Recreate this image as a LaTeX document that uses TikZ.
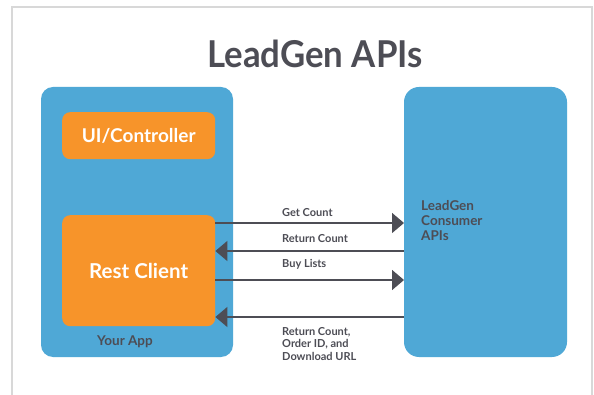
\documentclass[tikz,border=0pt]{standalone}
\usepackage{fontspec}
\usepackage{graphicx}
\setmainfont{Lato}
\usetikzlibrary{arrows.meta,calc}
\definecolor{appblue}{HTML}{4FA8D6}
\definecolor{apporange}{HTML}{F7942A}
\definecolor{darkgr}{HTML}{4D4D55}
\definecolor{framegr}{HTML}{D8D8D8}
\tikzset{
  bluebox/.style={fill=appblue, draw=none, rounded corners=12pt},
  orangebox/.style={fill=apporange, draw=none, rounded corners=8pt, text=white, font=\bfseries\fontsize{19}{21}\selectfont},
  msg/.style={draw=darkgr, line width=1.5pt, -{Triangle[length=12pt,width=20pt]}},
  lbl/.style={anchor=base west, inner sep=0pt, text=darkgr, font=\bfseries\fontsize{11}{12.5}\selectfont, align=left}
}
\begin{document}
\begin{tikzpicture}[x=1pt,y=-1pt]
\useasboundingbox (0,0) rectangle (594,395);
\fill[white] (0,0) rectangle (594,395);
\draw[framegr, line width=2pt] (12,400) -- (12,7) -- (592,7) -- (592,400);
\node[anchor=base, inner sep=0pt, text=darkgr, font=\bfseries\fontsize{37}{40}\selectfont] (title) at (315,68) {\scalebox{0.94}[1]{LeadGen APIs}};
\path[bluebox] (41,87) rectangle (233,357);
\node[inner sep=0pt, minimum width=192pt, minimum height=270pt, anchor=north west] (app) at (41,87) {};
\path[bluebox, rounded corners=15pt] (404,87) rectangle (567,357);
\node[inner sep=0pt, minimum width=163pt, minimum height=270pt, anchor=north west] (api) at (404,87) {};
\node[orangebox, anchor=north west, minimum width=153pt, minimum height=47pt, inner sep=0pt] (ui) at (62,112) {UI/Controller};
\node[orangebox, anchor=north west, minimum width=153pt, minimum height=111pt, inner sep=0pt, font=\bfseries\fontsize{20.5}{22}\selectfont] (rc) at (62,215) {Rest Client};
\node[lbl, font=\bfseries\fontsize{13.5}{14}\selectfont] (yourapp) at (97,345) {Your App};
\node[lbl, font=\bfseries\fontsize{13.5}{15}\selectfont] (consumer) at (421,241) {LeadGen\\Consumer\\APIs};
\coordinate (l1) at (rc.east |- 0,223);
\coordinate (r1) at (api.west |- 0,223);
\coordinate (l2) at (rc.east |- 0,251);
\coordinate (r2) at (api.west |- 0,251);
\coordinate (l3) at (rc.east |- 0,280);
\coordinate (r3) at (api.west |- 0,280);
\coordinate (l4) at (rc.east |- 0,317);
\coordinate (r4) at (api.west |- 0,317);
\draw[msg] (l1) -- (r1);
\draw[msg] (r2) -- (l2);
\draw[msg] (l3) -- (r3);
\draw[msg] (r4) -- (l4);
\node[lbl] (t1) at (282,217) {Get Count};
\node[lbl] (t2) at (282,243) {Return Count};
\node[lbl] (t3) at (282,268) {Buy Lists};
\node[lbl] (t4) at (282,360) {Return Count,\\Order ID, and\\Download URL};
\end{tikzpicture}
\end{document}
